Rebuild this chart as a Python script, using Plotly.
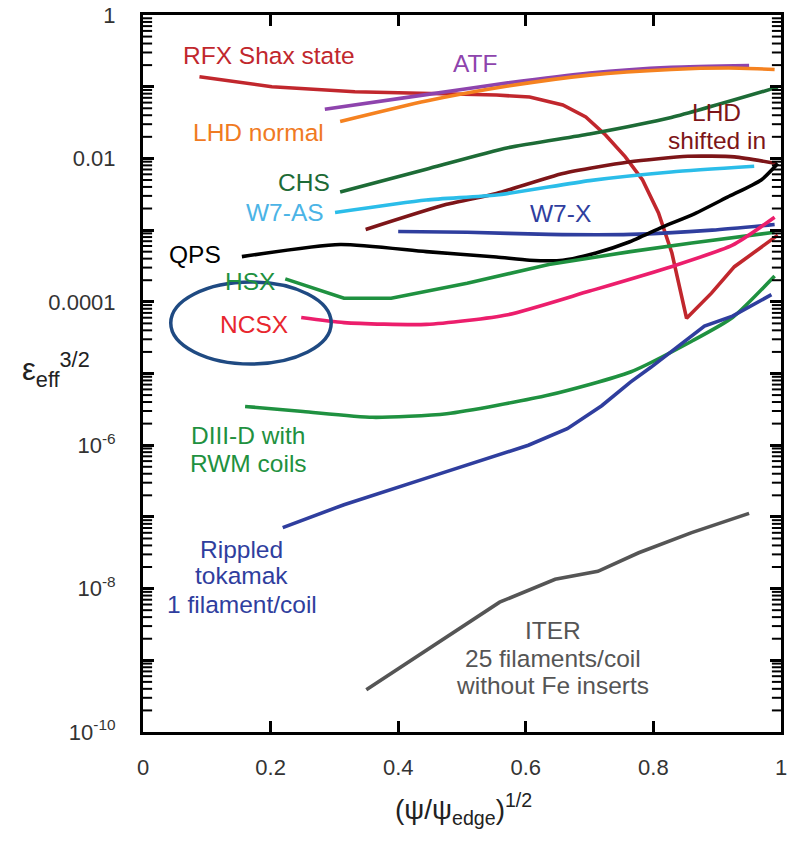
import plotly.graph_objects as go

# ---------------- data ----------------
rfx_x = [0.0885, 0.202, 0.332, 0.435, 0.554, 0.606, 0.658, 0.694, 0.725, 0.756, 0.783, 0.808, 0.829, 0.852, 0.891, 0.927, 0.963, 0.995]
rfx_y = [0.138, 0.1, 0.0851, 0.0813, 0.0766, 0.0718, 0.0556, 0.0378, 0.0212, 0.0105, 5.01e-3, 1.74e-3, 4.79e-4, 5.89e-5, 1.32e-4, 3.09e-4, 5.25e-4, 8.5e-4]

atf_x = [0.285, 0.444, 0.572, 0.7, 0.828, 0.95]
atf_y = [0.0484, 0.0776, 0.113, 0.155, 0.186, 0.197]

lhdn_x = [0.309, 0.444, 0.572, 0.7, 0.828, 0.918, 0.963, 0.99]
lhdn_y = [0.0327, 0.0631, 0.102, 0.145, 0.174, 0.182, 0.178, 0.174]

chs_x = [0.309, 0.444, 0.572, 0.7, 0.828, 0.995]
chs_y = [3.39e-3, 7.08e-3, 1.41e-2, 2.19e-2, 3.72e-2, 9.86e-2]

lhds_x = [0.349, 0.476, 0.554, 0.658, 0.761, 0.854, 0.927, 0.993]
lhds_y = [1.02e-3, 2.29e-3, 3.24e-3, 6.17e-3, 8.91e-3, 1.07e-2, 1.05e-2, 8.5e-3]

w7as_x = [0.301, 0.444, 0.554, 0.7, 0.828, 0.958]
w7as_y = [1.76e-3, 2.63e-3, 3.09e-3, 4.90e-3, 6.46e-3, 7.76e-3]

w7x_x = [0.4, 0.508, 0.636, 0.764, 0.892, 0.99]
w7x_y = [9.55e-4, 9.33e-4, 8.71e-4, 8.71e-4, 1.0e-3, 1.20e-3]

qps_x = [0.155, 0.309, 0.444, 0.554, 0.606, 0.658, 0.71, 0.761, 0.814, 0.865, 0.916, 0.969, 0.995]
qps_y = [4.27e-4, 6.31e-4, 5.01e-4, 4.22e-4, 3.80e-4, 3.80e-4, 4.79e-4, 6.76e-4, 1.10e-3, 1.70e-3, 2.88e-3, 5.01e-3, 8.5e-3]

hsx_x = [0.223, 0.315, 0.389, 0.508, 0.636, 0.764, 0.86, 0.99]
hsx_y = [2.09e-4, 1.12e-4, 1.12e-4, 1.82e-4, 3.31e-4, 5.01e-4, 6.61e-4, 9.33e-4]

ncsx_x = [0.248, 0.315, 0.444, 0.572, 0.7, 0.828, 0.924, 0.99]
ncsx_y = [6.03e-5, 5.13e-5, 4.84e-5, 6.61e-5, 1.41e-4, 3.09e-4, 6.17e-4, 1.51e-3]

diiid_x = [0.16, 0.251, 0.36, 0.476, 0.636, 0.764, 0.86, 0.924, 0.99]
diiid_y = [3.47e-6, 2.95e-6, 2.45e-6, 2.75e-6, 5.01e-6, 1.05e-5, 2.82e-5, 6.03e-5, 2.29e-4]

rip_x = [0.219, 0.315, 0.444, 0.54, 0.604, 0.665, 0.719, 0.764, 0.796, 0.88, 0.924, 0.985]
rip_y = [7.08e-8, 1.48e-7, 3.47e-7, 6.61e-7, 1.0e-6, 1.70e-6, 3.55e-6, 7.59e-6, 1.22e-5, 4.57e-5, 6.31e-5, 1.26e-4]

iter_x = [0.35, 0.476, 0.559, 0.646, 0.713, 0.777, 0.86, 0.95]
iter_y = [3.89e-10, 2.09e-9, 6.46e-9, 1.35e-8, 1.74e-8, 3.16e-8, 6.03e-8, 1.12e-7]

x_ticks = [0, 0.2, 0.4, 0.6, 0.8, 1]
x_ticktext = ["0", "0.2", "0.4", "0.6", "0.8", "1"]
y_decades = [-10, -9, -8, -7, -6, -5, -4, -3, -2, -1, 0]
y_decade_text = ["10<sup>-10</sup>", "", "10<sup>-8</sup>", "", "10<sup>-6</sup>", "", "0.0001", "", "0.01", "", "1"]
minor_digits = [2, 3, 4, 5, 6, 7, 8, 9]

# ---------------- figure ----------------
series = [
    (rfx_x, rfx_y, "#c1272d", "linear"),
    (atf_x, atf_y, "#8e44ad", "spline"),
    (lhdn_x, lhdn_y, "#f58220", "spline"),
    (chs_x, chs_y, "#1d6b36", "spline"),
    (lhds_x, lhds_y, "#7d1518", "spline"),
    (w7as_x, w7as_y, "#2bbde9", "spline"),
    (w7x_x, w7x_y, "#2f3e9e", "spline"),
    (qps_x, qps_y, "#000000", "spline"),
    (hsx_x, hsx_y, "#1f9140", "linear"),
    (ncsx_x, ncsx_y, "#ec1e6c", "spline"),
    (diiid_x, diiid_y, "#1f9140", "spline"),
    (rip_x, rip_y, "#2f3e9e", "linear"),
    (iter_x, iter_y, "#555555", "linear"),
]

fig = go.Figure()
for xs, ys, col, shp in series:
    line = dict(color=col, width=3.6, shape=shp)
    if shp == "spline":
        line["smoothing"] = 0.6
    fig.add_trace(go.Scatter(x=xs, y=ys, mode="lines", line=line,
                             showlegend=False, hoverinfo="skip"))

# minor log ticks on the left and right frame edges (half of each dash is clipped)
minor_vals = []
for e in y_decades[:-1]:
    for k in minor_digits:
        minor_vals.append(k * 10.0 ** e)
for edge in (x_ticks[0], x_ticks[-1]):
    fig.add_trace(go.Scatter(x=[edge] * len(minor_vals), y=minor_vals, mode="markers",
                             marker=dict(symbol="line-ew-open", size=13, color="black",
                                         line=dict(color="black", width=2)),
                             cliponaxis=True, showlegend=False, hoverinfo="skip"))

FONT = "Liberation Sans, Arial, sans-serif"
labels = [
    ("RFX Shax state", 0.198, -0.56, "#c1272d"),
    ("ATF", 0.52, -0.67, "#8e44ad"),
    ("LHD normal", 0.181, -1.638, "#f07a22"),
    ("LHD", 0.899, -1.36, "#7d1518"),
    ("shifted in", 0.899, -1.75, "#7d1518"),
    ("CHS", 0.252, -2.33, "#1d6b36"),
    ("W7-AS", 0.222, -2.755, "#4bb4e6"),
    ("W7-X", 0.655, -2.77, "#2f3e9e"),
    ("QPS", 0.081, -3.346, "#000000"),
    ("HSX", 0.168, -3.715, "#1f9140"),
    ("NCSX", 0.174, -4.315, "#e8262e"),
    ("DIII-D with", 0.165, -5.86, "#1f9140"),
    ("RWM coils", 0.165, -6.254, "#1f9140"),
    ("Rippled", 0.155, -7.454, "#2f3e9e"),
    ("tokamak", 0.155, -7.823, "#2f3e9e"),
    ("1 filament/coil", 0.155, -8.215, "#2f3e9e"),
    ("ITER", 0.642, -8.584, "#555555"),
    ("25 filaments/coil", 0.642, -8.976, "#555555"),
    ("without Fe inserts", 0.642, -9.346, "#555555"),
]
annotations = []
for txt, lx, ly, col in labels:
    annotations.append(dict(text=txt, x=lx, y=ly, xref="x", yref="y",
                            showarrow=False, xanchor="center", yanchor="middle",
                            font=dict(family=FONT, size=24.5, color=col)))

# axis titles
annotations.append(dict(text="ε<sub>eff</sub><sup>3/2</sup>", x=-0.193, y=0.505,
                        xref="paper", yref="paper", showarrow=False,
                        xanchor="left", yanchor="middle",
                        font=dict(family=FONT, size=31, color="#222")))
annotations.append(dict(text="(ψ/ψ<sub>edge</sub>)<sup>1/2</sup>", x=0.503, y=-0.108,
                        xref="paper", yref="paper", showarrow=False,
                        xanchor="center", yanchor="middle",
                        font=dict(family=FONT, size=28, color="#222")))

# highlight ellipse around NCSX
shapes = [dict(type="circle", xref="paper", yref="paper",
               x0=0.0435, x1=0.295, y0=0.5132, y1=0.6276,
               line=dict(color="#1f4a82", width=3.5))]

major_vals = [10.0 ** e for e in y_decades]

fig.update_layout(
    width=790, height=844,
    margin=dict(l=143, r=3, t=15, b=112),
    paper_bgcolor="white", plot_bgcolor="white",
    annotations=annotations, shapes=shapes,
    font=dict(family=FONT, color="#222"),
    xaxis=dict(range=[0, 1], tickvals=x_ticks, ticktext=x_ticktext,
               showgrid=False, zeroline=False, showline=True, linewidth=3,
               linecolor="black", mirror="ticks", ticks="inside", ticklen=11,
               tickwidth=2.5, tickcolor="black", ticklabelstandoff=14,
               ticklabeloverflow="allow",
               tickfont=dict(family=FONT, size=22, color="#333")),
    yaxis=dict(type="log", range=[-10, 0], tickmode="array",
               tickvals=major_vals, ticktext=y_decade_text,
               showgrid=False, zeroline=False, showline=True, linewidth=3,
               linecolor="black", mirror="ticks", ticks="inside", ticklen=11,
               tickwidth=2.5, tickcolor="black", ticklabelstandoff=20,
               tickfont=dict(family=FONT, size=22, color="#333")),
)

fig.write_html("out.html")
